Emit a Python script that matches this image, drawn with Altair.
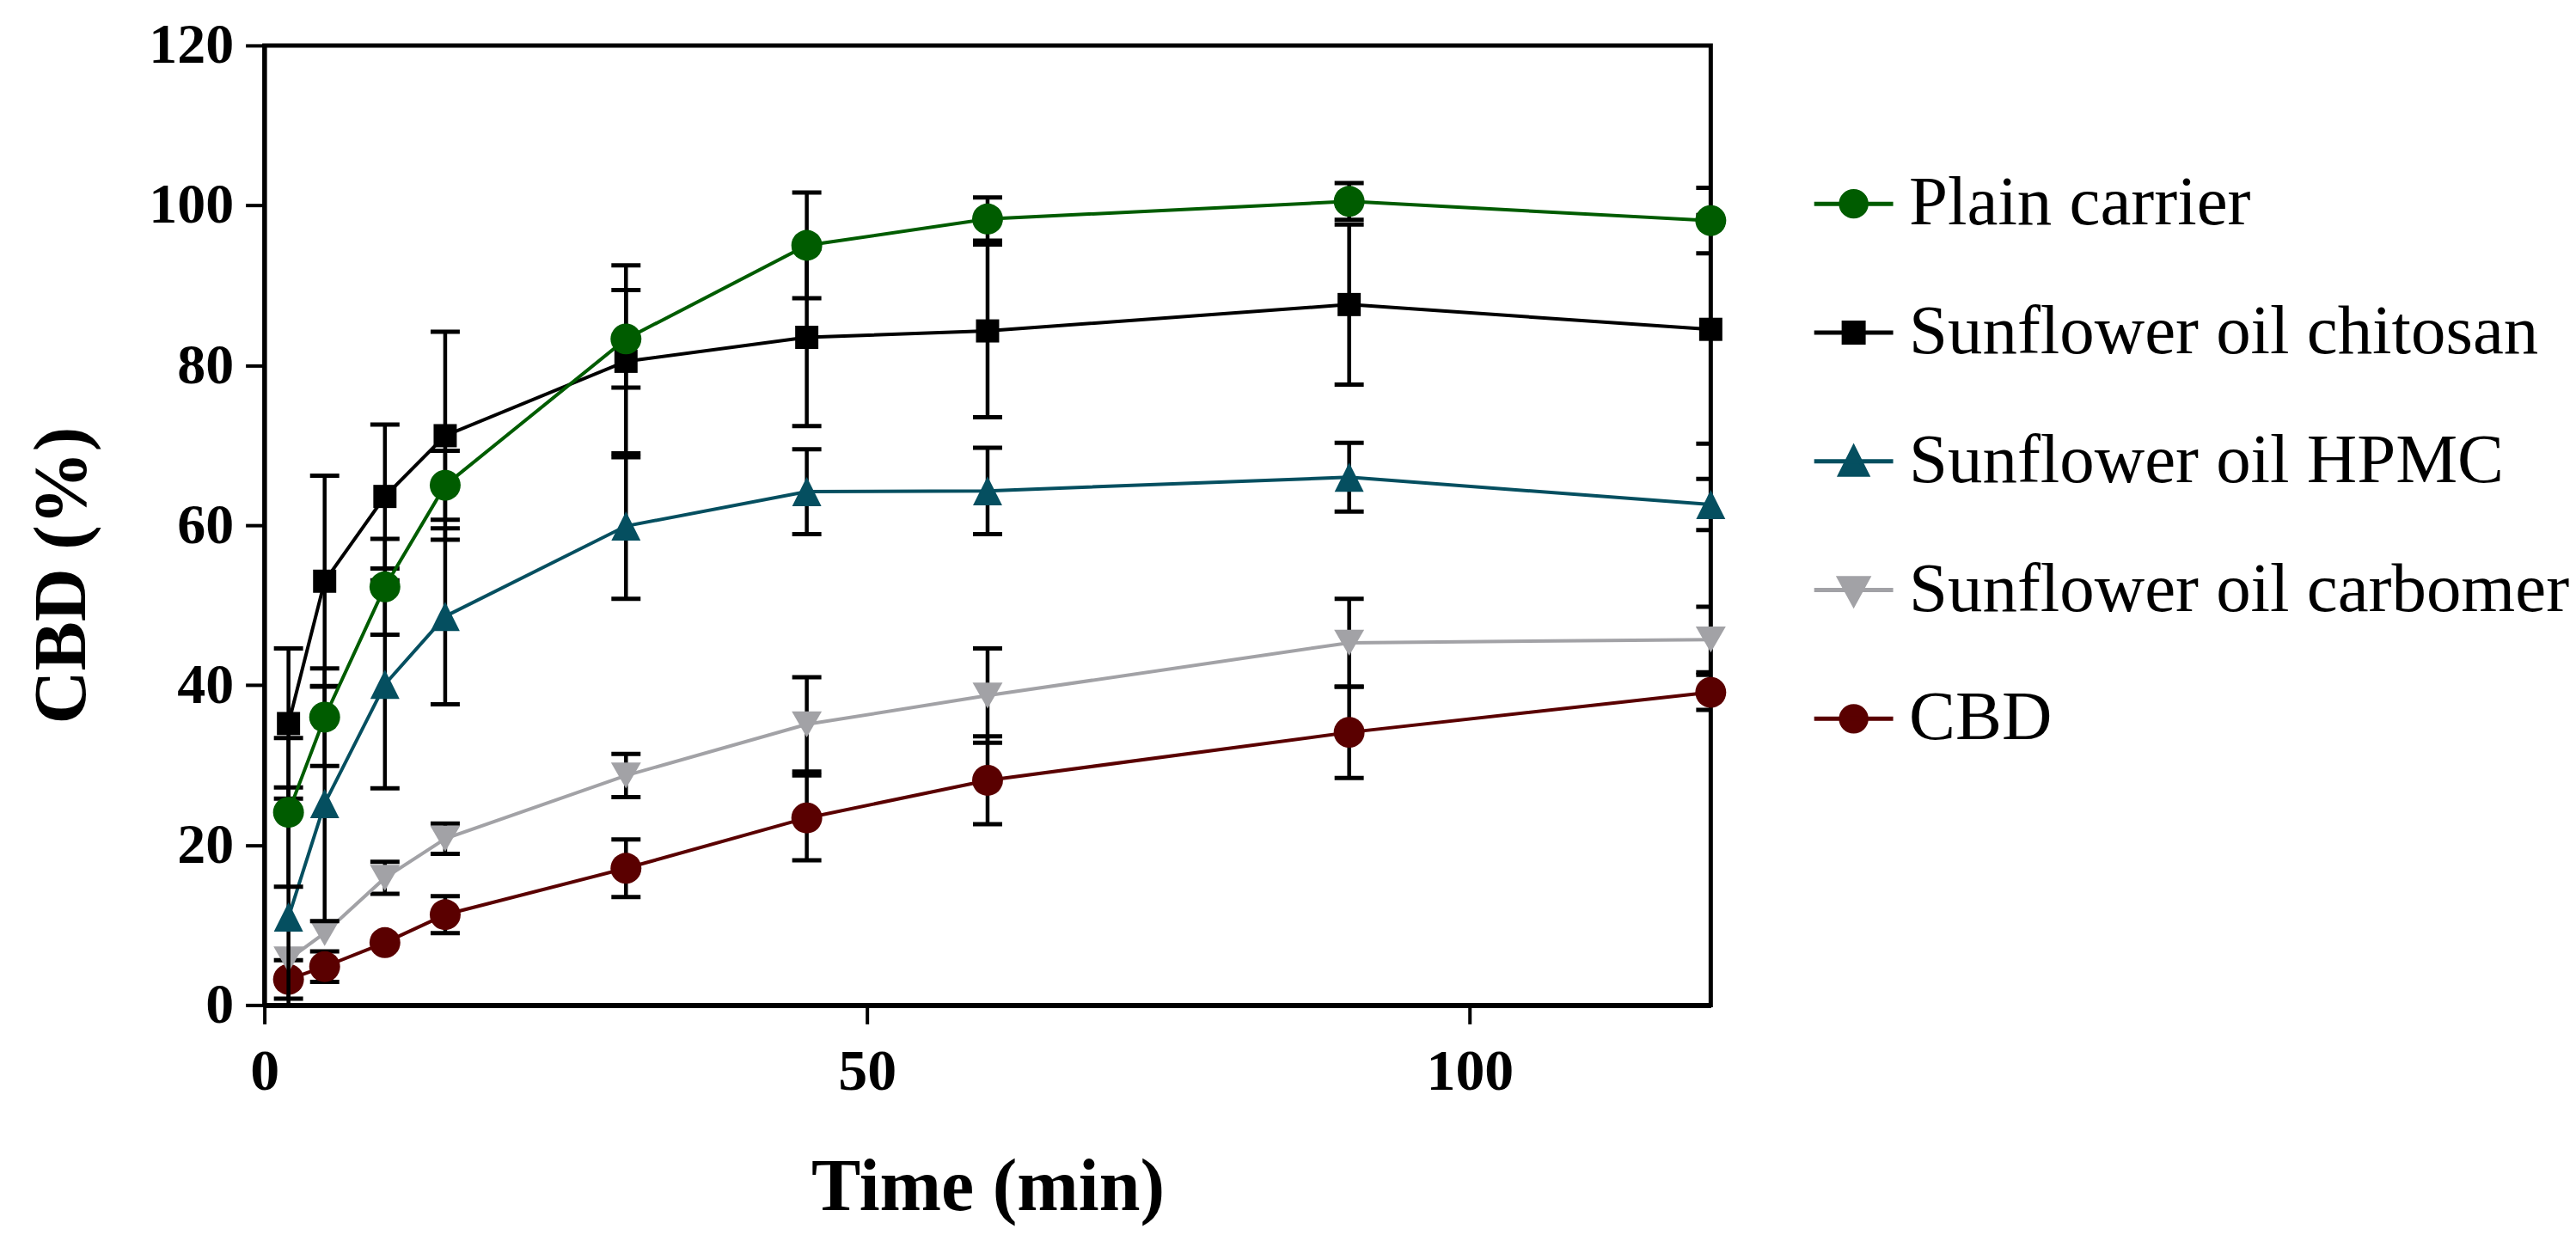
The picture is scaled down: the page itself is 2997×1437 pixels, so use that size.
import altair as alt
import pandas as pd

# ---- data ----
times = [2, 5, 10, 15, 30, 45, 60, 90, 120]
series_names = ["Plain carrier", "Sunflower oil chitosan", "Sunflower oil HPMC",
                "Sunflower oil carbomer", "CBD"]

plain_mean = [24.1, 36.0, 52.3, 65.0, 83.3, 95.0, 98.3, 100.5, 98.1]
plain_sd = [9.3, 6.1, 6.0, 4.3, 6.1, 6.6, 2.7, 2.3, 4.1]
chitosan_mean = [35.2, 53.0, 63.6, 71.2, 80.5, 83.5, 84.3, 87.6, 84.5]
chitosan_sd = [9.4, 13.2, 9.0, 13.0, 12.0, 11.1, 10.8, 10.0, 14.3]
hpmc_mean = [11.0, 25.2, 40.1, 48.6, 59.9, 64.2, 64.3, 66.0, 62.6]
hpmc_sd = [16.2, 14.7, 13.0, 11.0, 9.1, 5.3, 5.4, 4.3, 3.2]
carbomer_mean = [5.7, 9.0, 15.9, 20.8, 28.7, 35.1, 38.7, 45.3, 45.7]
carbomer_sd = [0.0, 0.0, 2.0, 1.9, 2.7, 5.9, 5.9, 5.5, 4.1]
cbd_mean = [3.2, 4.8, 7.8, 11.3, 17.1, 23.4, 28.1, 34.1, 39.1]
cbd_sd = [2.4, 1.9, 0.0, 2.3, 3.6, 5.3, 5.5, 5.7, 2.2]

all_means = [plain_mean, chitosan_mean, hpmc_mean, carbomer_mean, cbd_mean]
all_sds = [plain_sd, chitosan_sd, hpmc_sd, carbomer_sd, cbd_sd]

# ---- styles ----
colors = ["#005c00", "#000000", "#054f60", "#a2a2a6", "#5a0000"]
point_shapes = ["circle", "square", "M0,-1L1,1L-1,1Z", "triangle-down", "circle"]
point_sizes = [1296, 729, 1156, 1225, 1296]
legend_paths = [
    "M-1,0H1M0.32,0A0.32,0.32,0,1,1,-0.32,0A0.32,0.32,0,1,1,0.32,0Z",
    "M-1,0H1M-0.25,-0.25H0.25V0.25H-0.25Z",
    "M-1,0H1M0,-0.34L0.34,0.34L-0.34,0.34Z",
    "M-1,0H1M0,0.36L0.36,-0.3L-0.36,-0.3Z",
    "M-1,0H1M0.32,0A0.32,0.32,0,1,1,-0.32,0A0.32,0.32,0,1,1,0.32,0Z",
]

rows = []
for name, means, sds in zip(series_names, all_means, all_sds):
    for t, m, s in zip(times, means, sds):
        rows.append({"series": name, "t": t, "v": m, "sd": s, "lo": m - s, "hi": m + s})
df = pd.DataFrame(rows)

FONT = "Liberation Serif"
W, H = 1685, 1118

x_scale = alt.Scale(domain=[0, 120], nice=False, zero=False)
y_scale = alt.Scale(domain=[0, 120], nice=False)
x_axis = alt.Axis(values=[0, 50, 100], format="d", title="Time (min)",
                  labelPadding=22, titleBaseline="alphabetic", titleY=238)
y_axis = alt.Axis(values=[0, 20, 40, 60, 80, 100, 120], format="d", title="CBD (%)",
                  labelPadding=14, labelFontSize=66, titleBaseline="alphabetic",
                  titleX=-209, titleY=617)


def X():
    return alt.X("t:Q", scale=x_scale, axis=x_axis)


def Y(field):
    return alt.Y(field, scale=y_scale, axis=y_axis)


leg = alt.Legend(title=None, orient="none", legendX=1803, legendY=136,
                 symbolSize=8464, symbolStrokeWidth=5, symbolOpacity=1,
                 labelFont=FONT, labelFontSize=81, labelColor="black",
                 labelOffset=16, rowPadding=61, labelLimit=0, padding=0)

legend_layer = alt.Chart(df).mark_point(filled=True, opacity=0).encode(
    x=X(), y=Y("v:Q"),
    fill=alt.Fill("series:N", scale=alt.Scale(domain=series_names, range=colors), legend=leg),
    stroke=alt.Stroke("series:N", scale=alt.Scale(domain=series_names, range=colors), legend=leg),
    shape=alt.Shape("series:N", scale=alt.Scale(domain=series_names, range=legend_paths), legend=leg),
)

layers = [legend_layer]
# draw last series first so that "Plain carrier" ends on top
for i in reversed(range(len(series_names))):
    name = series_names[i]
    d = df[df["series"] == name]
    d_err = d[d["sd"] > 0]
    stems = alt.Chart(d_err).mark_rule(color="black", strokeWidth=4.5, clip=True).encode(
        x=X(), y=Y("lo:Q"), y2="hi:Q")
    caps = alt.Chart(d_err).transform_fold(["lo", "hi"], as_=["end", "yv"]).mark_tick(
        orient="horizontal", color="black", size=34, thickness=5, opacity=1, clip=True
    ).encode(x=X(), y=Y("yv:Q"))
    line = alt.Chart(d).mark_line(color=colors[i], strokeWidth=4).encode(x=X(), y=Y("v:Q"))
    pts = alt.Chart(d).mark_point(filled=True, opacity=1, color=colors[i],
                                  shape=point_shapes[i], size=point_sizes[i]).encode(
        x=X(), y=Y("v:Q"))
    layers += [stems, caps, line, pts]

chart = alt.layer(*layers).properties(
    width=W, height=H,
    autosize=alt.AutoSizeParams(type="none"),
    padding={"left": 300, "top": 44, "right": 1000, "bottom": 260},
).configure_view(
    stroke="black", strokeWidth=5
).configure_axis(
    domainColor="black", domainWidth=5, tickColor="black", tickWidth=4, tickSize=22,
    grid=False, labelFont=FONT, labelFontSize=68, labelFontWeight="bold",
    labelColor="black", titleFont=FONT, titleFontSize=86, titleFontWeight="bold",
    titleColor="black", labelFlush=False
).configure_axisX(domainWidth=6)

chart.save("out.html", embed_options={"renderer": "svg", "actions": False})
